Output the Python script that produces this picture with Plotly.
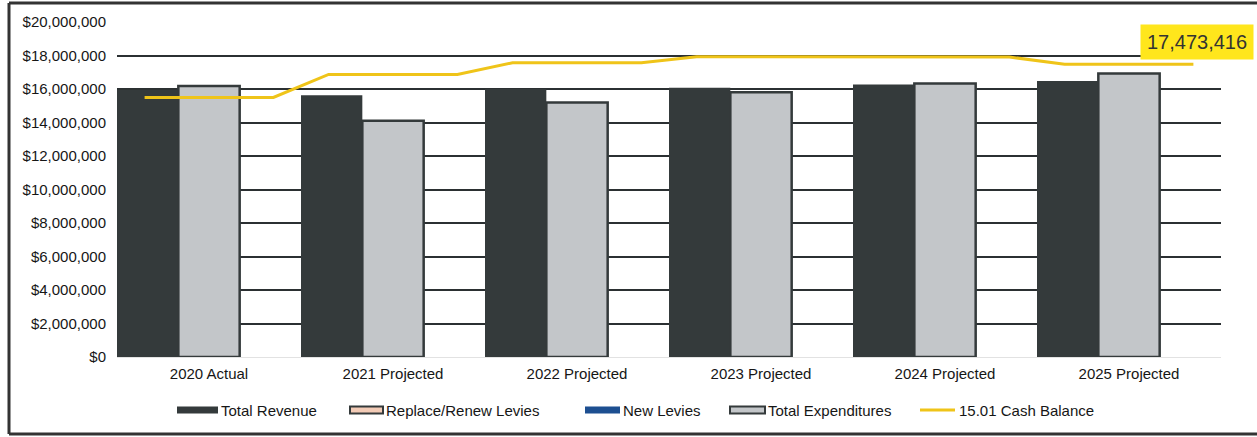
import plotly.graph_objects as go

# Category labels and series values (USD)
categories = ["2020 Actual", "2021 Projected", "2022 Projected",
              "2023 Projected", "2024 Projected", "2025 Projected"]
total_revenue = [15960000, 15620000, 16000000, 16080000, 16270000, 16480000]
replace_renew_levies = [None, None, None, None, None, None]
new_levies = [None, None, None, None, None, None]
total_expenditures = [16180000, 14100000, 15200000, 15800000, 16330000, 16930000]
cash_balance = [15500000, 16870000, 17570000, 17930000, 17910000, 17473416]
y_ticks = list(range(0, 20000001, 2000000))

idx = list(range(len(categories)))
FONT = "Liberation Sans, Arial, sans-serif"
TEXT = "#161616"
DARK = "#343a3b"
GRID = "#2b3032"
PEACH = "#f3cbb6"
BLUE = "#1d4f91"
LIGHT = "#c3c6c9"
GOLD = "#efc419"

# Figure geometry (pixels)
W, H = 1257, 437
L, R, T, B = 117, 36, 22, 80
pw, ph = W - L - R, H - T - B


def px_x(px):
    return (px - L) / pw


def px_y(py):
    return (H - B - py) / ph


fig = go.Figure()

fig.add_trace(go.Bar(
    name="Total Revenue", x=idx, y=total_revenue,
    offset=-0.5, width=1 / 3,
    marker=dict(color=DARK, line=dict(width=0)),
))
fig.add_trace(go.Bar(
    name="Replace/Renew Levies", x=idx, y=replace_renew_levies,
    offset=-1 / 6, width=1 / 3,
    marker=dict(color=PEACH, line=dict(color=DARK, width=2)),
))
fig.add_trace(go.Bar(
    name="New Levies", x=idx, y=new_levies,
    offset=-1 / 6, width=1 / 3,
    marker=dict(color=BLUE, line=dict(width=0)),
))
fig.add_trace(go.Bar(
    name="Total Expenditures", x=idx, y=total_expenditures,
    offset=-1 / 6, width=1 / 3,
    marker=dict(color=LIGHT, line=dict(color=DARK, width=2.5)),
))

# Cash balance drawn as a flat segment across each year, joined by ramps
half = 0.35
line_x, line_y = [], []
for i, v in zip(idx, cash_balance):
    line_x += [i - half, i + half]
    line_y += [v, v]
fig.add_trace(go.Scatter(
    name="15.01 Cash Balance", x=line_x, y=line_y, mode="lines",
    line=dict(color=GOLD, width=3),
))

# Value callout for the final year's balance
fig.add_annotation(
    x=idx[-1], y=cash_balance[-1], xref="x", yref="y",
    text=f"{cash_balance[-1]:,}", showarrow=False,
    xshift=68, yshift=22,
    font=dict(family=FONT, size=20, color="#333333"),
    bgcolor="#ffe61c", borderpad=6,
)

# Legend row: wide swatches followed by labels
legend_y = 410
legend_items = [
    # (label, kind, fill, outline, swatch x0, swatch x1, text x)
    ("Total Revenue", "box", DARK, None, 177, 218, 219),
    ("Replace/Renew Levies", "box", PEACH, DARK, 350, 383, 384),
    ("New Levies", "box", BLUE, None, 585, 620, 621),
    ("Total Expenditures", "box", LIGHT, DARK, 730, 765, 766),
    ("15.01 Cash Balance", "line", GOLD, None, 920, 955, 957),
]
for label, kind, fill, outline, sx0, sx1, tx in legend_items:
    if kind == "box":
        fig.add_shape(
            type="rect", xref="paper", yref="paper",
            x0=px_x(sx0), x1=px_x(sx1),
            y0=px_y(legend_y + 3.5), y1=px_y(legend_y - 3.5),
            fillcolor=fill,
            line=dict(color=outline or fill, width=2 if outline else 0),
        )
    else:
        fig.add_shape(
            type="line", xref="paper", yref="paper",
            x0=px_x(sx0), x1=px_x(sx1),
            y0=px_y(legend_y), y1=px_y(legend_y),
            line=dict(color=fill, width=3),
        )
    fig.add_annotation(
        x=px_x(tx), y=px_y(legend_y), xref="paper", yref="paper",
        text=label, showarrow=False, xanchor="left", yanchor="middle",
        font=dict(family=FONT, size=15, color=TEXT),
    )

# Outer frame around the chart (its right side runs off the page)
frame_color = "#333333"
for x0, y0, x1, y1 in [(9, 3, W + 5, 3), (9, 434, W + 5, 434), (9, 3, 9, 434)]:
    fig.add_shape(
        type="line", xref="paper", yref="paper",
        x0=px_x(x0), x1=px_x(x1), y0=px_y(y0), y1=px_y(y1),
        line=dict(color=frame_color, width=3), layer="above",
    )

fig.update_layout(
    width=W, height=H,
    margin=dict(l=L, r=R, t=T, b=B),
    paper_bgcolor="white", plot_bgcolor="white",
    barmode="overlay",
    font=dict(family=FONT, color=TEXT),
    showlegend=False,
)
fig.update_xaxes(
    range=[-0.5, 5.5], tickmode="array", tickvals=idx, ticktext=categories,
    showgrid=False, zeroline=False, showline=False, ticks="",
    tickfont=dict(family=FONT, size=15, color=TEXT),
    ticklabelstandoff=6,
)
fig.update_yaxes(
    range=[0, 20000000], tickmode="array", tickvals=y_ticks,
    tickformat="$,.0f",
    showgrid=True, gridcolor=GRID, gridwidth=2,
    zeroline=True, zerolinecolor="#e2e2e2", zerolinewidth=1,
    showline=False, ticks="",
    tickfont=dict(family=FONT, size=15, color=TEXT),
    ticklabelstandoff=10,
)

fig.write_html("out.html")
